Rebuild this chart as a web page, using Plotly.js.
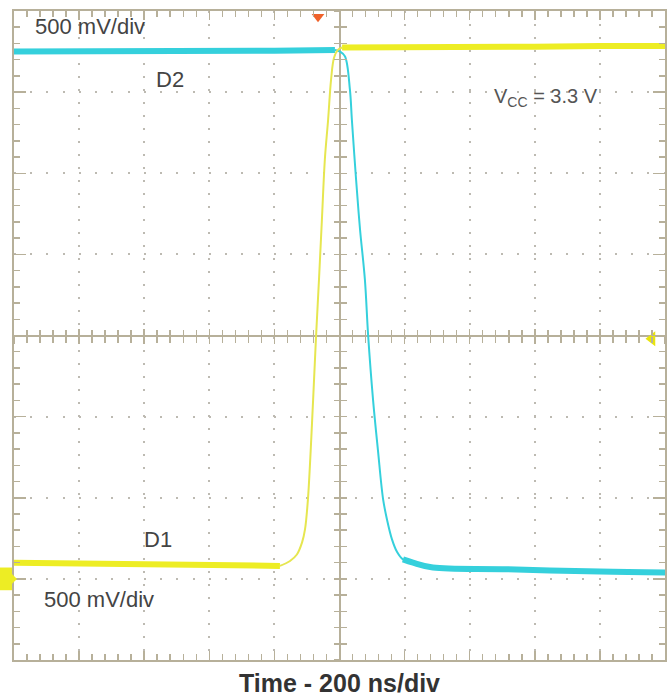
<!DOCTYPE html>
<html>
<head>
<meta charset="utf-8">
<script src="https://cdn.plot.ly/plotly-3.0.1.min.js"></script>
<style>
  html, body { margin: 0; padding: 0; background: #ffffff; }
  #chart { width: 669px; height: 698px; }
</style>
</head>
<body>
<div id="chart"></div>
<script>
// Time in ns (200 ns/div), amplitude in screen divisions (500 mV/div)
const d2FlatHighT = [-1000, -800, -600, -400, -200, -14];
const d2FlatHighV = [3.50, 3.50, 3.51, 3.51, 3.51, 3.52];
const d2EdgeT = [-14, 2, 17, 32, 38, 51, 63, 78, 88, 103, 118, 134, 146, 161, 177, 195, 226, 287];
const d2EdgeV = [3.52, 3.50, 3.44, 3.03, 2.66, 1.92, 1.31, 0.69, 0, -0.79, -1.41, -2.02, -2.27, -2.51, -2.67, -2.76, -2.80, -2.86];
const d2FlatLowT = [195, 226, 287, 500, 800, 1000];
const d2FlatLowV = [-2.76, -2.80, -2.86, -2.88, -2.91, -2.92];

const d1FlatLowT = [-1000, -800, -600, -400, -183];
const d1FlatLowV = [-2.80, -2.81, -2.82, -2.82, -2.84];
const d1EdgeT = [-183, -152, -131, -115, -106, -97, -81, -72, -63, -54, -45, -35, -26, -17, -5, 8];
const d1EdgeV = [-2.84, -2.78, -2.70, -2.55, -2.39, -2.02, -0.79, -0.01, 0.69, 1.43, 2.17, 2.66, 3.15, 3.42, 3.52, 3.55];
const d1FlatHighT = [8, 200, 400, 600, 800, 1000];
const d1FlatHighV = [3.55, 3.55, 3.56, 3.56, 3.57, 3.57];

const triggerPosT = [-66];
const triggerPosV = [3.93];
const triggerLevelT = [960];
const triggerLevelV = [-0.04];
const ch1GroundV = -3;

const xRange = [-1000, 1000];
const yRange = [-4, 4];

const labels = {
  topScale: '500 mV/div',
  d2: 'D2',
  vcc: 'V<sub>CC</sub> = 3.3 V',
  d1: 'D1',
  bottomScale: '500 mV/div',
  xTitle: '<b>Time - 200 ns/div</b>'
};

const CYAN = '#35d0dc';
const YELLOW = '#eded24';
const YELLOW_EDGE = '#e6e650';
const FRAME = '#b7b09a';
const GRID = '#bdbab2';

const flat = 6;
const traces = [
  {x: d2FlatHighT, y: d2FlatHighV, mode: 'lines', line: {color: CYAN, width: flat}},
  {x: d2EdgeT, y: d2EdgeV, mode: 'lines', line: {color: CYAN, width: 2, shape: 'spline'}},
  {x: d2FlatLowT, y: d2FlatLowV, mode: 'lines', line: {color: CYAN, width: flat, shape: 'spline'}},
  {x: d1FlatLowT, y: d1FlatLowV, mode: 'lines', line: {color: YELLOW, width: flat}},
  {x: d1EdgeT, y: d1EdgeV, mode: 'lines', line: {color: YELLOW_EDGE, width: 2, shape: 'spline'}},
  {x: d1FlatHighT, y: d1FlatHighV, mode: 'lines', line: {color: YELLOW, width: flat}},
  {x: triggerPosT, y: triggerPosV, mode: 'markers', cliponaxis: false,
   marker: {symbol: 'triangle-down', size: 11, color: '#f0622a'}},
  {x: triggerLevelT, y: triggerLevelV, mode: 'markers', cliponaxis: false,
   marker: {symbol: 'triangle-left', size: 13, color: '#e8e40c', line: {width: 0}}},
  {x: [null], y: [null], xaxis: 'x2', yaxis: 'y', mode: 'lines'},
  {x: [null], y: [null], xaxis: 'x3', yaxis: 'y', mode: 'lines'},
  {x: [null], y: [null], xaxis: 'x', yaxis: 'y2', mode: 'lines'},
  {x: [null], y: [null], xaxis: 'x', yaxis: 'y3', mode: 'lines'}
].map(t => Object.assign({showlegend: false, hoverinfo: 'skip'}, t));

const centerAxisX = (ticks) => ({
  overlaying: 'x', anchor: 'free', position: 0.5, range: xRange,
  showline: false, showgrid: false, zeroline: false, showticklabels: false,
  ticks: ticks, dtick: 200, tick0: 0, ticklen: 7, tickwidth: 1.5, tickcolor: FRAME,
  minor: {dtick: 40, tick0: 0, ticks: ticks, ticklen: 6, tickwidth: 1.5, tickcolor: FRAME, showgrid: false}
});
const centerAxisY = (ticks) => ({
  overlaying: 'y', anchor: 'free', position: 0.5, range: yRange,
  showline: false, showgrid: false, zeroline: false, showticklabels: false,
  ticks: ticks, dtick: 1, tick0: 0, ticklen: 6, tickwidth: 1.5, tickcolor: FRAME,
  minor: {dtick: 0.2, tick0: 0, ticks: ticks, ticklen: 6, tickwidth: 1.5, tickcolor: FRAME, showgrid: false}
});

const font = 'Liberation Sans, Arial, sans-serif';
const ann = (x, y, text, size, xanchor, color) => ({
  x: x, y: y, xref: 'x', yref: 'y', text: text, showarrow: false,
  xanchor: xanchor, yanchor: 'middle', font: {family: font, size: size, color: color}
});

const layout = {
  width: 669, height: 698,
  margin: {l: 14, r: 4, t: 11, b: 38},
  paper_bgcolor: '#ffffff', plot_bgcolor: '#ffffff',
  showlegend: false,
  xaxis: {
    range: xRange, showticklabels: false,
    showgrid: true, dtick: 200, tick0: 0, gridcolor: GRID, gridwidth: 2, griddash: '2px,11.02px',
    showline: true, linecolor: FRAME, linewidth: 2, mirror: 'ticks',
    ticks: 'inside', ticklen: 9, tickwidth: 1.5, tickcolor: FRAME,
    minor: {dtick: 40, tick0: 0, ticks: 'inside', ticklen: 6, tickwidth: 1.5, tickcolor: FRAME, showgrid: false},
    zeroline: true, zerolinecolor: FRAME, zerolinewidth: 2,
    title: {text: labels.xTitle, font: {family: font, size: 25, color: '#333333'}, standoff: 13}
  },
  yaxis: {
    range: yRange, showticklabels: false,
    showgrid: true, dtick: 1, tick0: 0, gridcolor: GRID, gridwidth: 2, griddash: '2px,14.24px',
    showline: true, linecolor: FRAME, linewidth: 2, mirror: 'ticks',
    ticks: 'inside', ticklen: 12, tickwidth: 1.5, tickcolor: FRAME,
    minor: {dtick: 0.2, tick0: 0, ticks: 'inside', ticklen: 6, tickwidth: 1.5, tickcolor: FRAME, showgrid: false},
    zeroline: true, zerolinecolor: FRAME, zerolinewidth: 2
  },
  xaxis2: centerAxisX('outside'),
  xaxis3: centerAxisX('inside'),
  yaxis2: centerAxisY('outside'),
  yaxis3: centerAxisY('inside'),
  shapes: [
    {type: 'rect', xref: 'paper', yref: 'y', xsizemode: 'pixel', xanchor: 0, x0: -14, x1: -2,
     y0: ch1GroundV - 0.14, y1: ch1GroundV + 0.14, fillcolor: YELLOW, line: {width: 0}, layer: 'above'},
    {type: 'path', xref: 'paper', yref: 'y', xsizemode: 'pixel', xanchor: 0,
     path: 'M -2,' + (ch1GroundV + 0.06) + ' L 3,' + ch1GroundV + ' L -2,' + (ch1GroundV - 0.06) + ' Z',
     fillcolor: YELLOW, line: {width: 0}, layer: 'above'}
  ],
  annotations: [
    ann(-942, 3.81, labels.topScale, 22, 'left', '#444444'),
    ann(-520, 3.15, labels.d2, 22, 'center', '#444444'),
    ann(468, 2.93, labels.vcc, 20, 'left', '#555555'),
    ann(-557, -2.51, labels.d1, 22, 'center', '#444444'),
    ann(-914, -3.26, labels.bottomScale, 22, 'left', '#444444')
  ]
};

Plotly.newPlot('chart', traces, layout, {displayModeBar: false, staticPlot: true});
</script>
</body>
</html>
